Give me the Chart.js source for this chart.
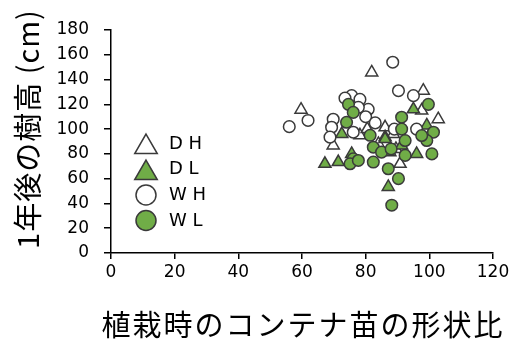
<!DOCTYPE html>
<html>
<head>
<meta charset="utf-8">
<script src="https://cdn.jsdelivr.net/npm/chart.js@4.4.0/dist/chart.umd.min.js"></script>
<style>
  html, body { margin: 0; padding: 0; background: #fff; }
</style>
</head>
<body>
<canvas id="chart" width="516" height="341"></canvas>
<script>
// series names (legend labels)
const seriesNames = ["D H", "D L", "W H", "W L"];

// axis ticks + titles
const xTicks = [0, 20, 40, 60, 80, 100, 120];
const yTicks = [0, 20, 40, 60, 80, 100, 120, 140, 160, 180];
const xTitle = "植栽時のコンテナ苗の形状比";
const yTitle = "1年後の樹高 (cm)";

// DH : white triangles
const dhX = [59.7, 81.9, 98.1, 97.6, 102.8, 86.1, 88.7, 69.8, 78.2, 90.8, 80.5, 84.0, 89.5];
const dhY = [115.7, 145.7, 131.0, 115.0, 108.0, 101.5, 96.0, 86.8, 95.0, 72.0, 100.0, 88.0, 84.0];

// DL : green triangles
const dlX = [67.2, 71.4, 75.6, 72.5, 86.1, 95.0, 99.2, 96.0, 86.1, 91.3, 87.1, 87.6];
const dlY = [72.0, 73.4, 80.0, 96.0, 93.5, 116.0, 103.0, 80.0, 92.0, 86.8, 53.3, 81.4];

// WH : white circles
const whX = [56.0, 61.9, 88.5, 90.3, 95.0, 96.0, 75.6, 78.2, 80.8, 77.7, 69.8, 69.3, 68.8, 76.1, 73.5, 80.0, 83.0, 89.0];
const whY = [102.0, 107.0, 154.0, 131.0, 127.0, 100.0, 127.0, 124.0, 116.0, 117.6, 108.0, 101.5, 93.5, 97.5, 125.0, 110.0, 105.0, 100.0];

// WL : green circles
const wlX = [74.6, 76.1, 74.0, 81.4, 82.4, 85.0, 76.1, 75.1, 77.7, 82.4, 87.1, 90.3, 88.2, 91.3, 91.3, 99.7, 101.3, 99.2, 92.4, 97.6, 100.8, 92.4, 88.0];
const wlY = [120.0, 113.5, 105.5, 95.0, 85.4, 81.4, 76.0, 72.0, 74.7, 73.4, 68.0, 60.0, 38.6, 109.6, 100.0, 120.0, 97.5, 90.8, 90.8, 94.8, 80.0, 78.8, 84.0];

const toPoints = (xs, ys) => xs.map((x, i) => ({ x: x, y: ys[i] }));

const GREEN = "#70AD47";
const EDGE = "#3a3a3a";

const styles = [
  { pointStyle: "triangle", bg: "#ffffff", r: 7 },
  { pointStyle: "triangle", bg: GREEN, r: 7 },
  { pointStyle: "circle", bg: "#ffffff", r: 5.8 },
  { pointStyle: "circle", bg: GREEN, r: 5.8 },
];
const allPoints = [toPoints(dhX, dhY), toPoints(dlX, dlY), toPoints(whX, whY), toPoints(wlX, wlY)];

const datasets = seriesNames.map((name, i) => ({
  label: name,
  data: allPoints[i],
  pointStyle: styles[i].pointStyle,
  pointRadius: styles[i].r,
  pointBackgroundColor: styles[i].bg,
  pointBorderColor: EDGE,
  pointBorderWidth: 1.5,
  order: 4 - i,
}));

// legend inside the plot + axis titles (drawn by hand so they are not squeezed)
const extrasPlugin = {
  id: "extras",
  afterDraw(chart) {
    const ctx = chart.ctx;
    const area = chart.chartArea;
    const rows = [147, 173, 195, 220.5];
    const textY = [144.5, 169, 195, 221];
    const legendR = [13, 13, 10, 10];
    seriesNames.forEach((name, i) => {
      ctx.save();
      ctx.fillStyle = styles[i].bg;
      ctx.strokeStyle = EDGE;
      ctx.lineWidth = 1.5;
      Chart.helpers.drawPoint(ctx, {
        pointStyle: styles[i].pointStyle,
        radius: legendR[i],
        rotation: 0,
        borderWidth: 1.5,
      }, 146, rows[i]);
      ctx.fillStyle = "#000";
      ctx.font = '18px "DejaVu Sans"';
      ctx.textAlign = "left";
      ctx.textBaseline = "middle";
      ctx.fillText(name, 169, textY[i]);
      ctx.restore();
    });

    // x title
    ctx.save();
    ctx.fillStyle = "#000";
    ctx.font = '29px "Noto Sans CJK JP"';
    ctx.letterSpacing = "2px";
    ctx.textAlign = "center";
    ctx.textBaseline = "middle";
    ctx.fillText(xTitle, (area.left + area.right) / 2 + 1, 325);
    ctx.restore();

    // y title
    ctx.save();
    ctx.translate(28, 129);
    ctx.rotate(-Math.PI / 2);
    ctx.fillStyle = "#000";
    ctx.font = '29px "Noto Sans CJK JP"';
    ctx.letterSpacing = "1px";
    ctx.textAlign = "center";
    ctx.textBaseline = "middle";
    ctx.fillText(yTitle, 0, 0);
    ctx.restore();
  },
};

new Chart(document.getElementById("chart"), {
  type: "scatter",
  data: { datasets: datasets },
  plugins: [extrasPlugin],
  options: {
    responsive: false,
    animation: false,
    layout: { padding: { top: 30, right: 23, left: 0, bottom: 0 } },
    plugins: { legend: { display: false }, tooltip: { enabled: false } },
    scales: {
      x: {
        type: "linear",
        min: 0,
        max: 120,
        afterBuildTicks: (s) => { s.ticks = xTicks.map((v) => ({ value: v })); },
        afterFit: (s) => { s.height = 88; },
        ticks: { color: "#000", font: { family: "DejaVu Sans", size: 17 }, padding: 3 },
        grid: { drawOnChartArea: false, tickLength: 6, color: "#000", lineWidth: 1.5 },
        border: { color: "#000", width: 1.5 },
      },
      y: {
        type: "linear",
        min: 0,
        max: 180,
        afterBuildTicks: (s) => { s.ticks = yTicks.map((v) => ({ value: v })); },
        afterFit: (s) => { s.width = 111; },
        ticks: { color: "#000", font: { family: "DejaVu Sans", size: 17 }, padding: 15 },
        grid: { drawOnChartArea: false, tickLength: 7, color: "#000", lineWidth: 1.5 },
        border: { color: "#000", width: 1.5 },
      },
    },
  },
});
</script>
</body>
</html>
